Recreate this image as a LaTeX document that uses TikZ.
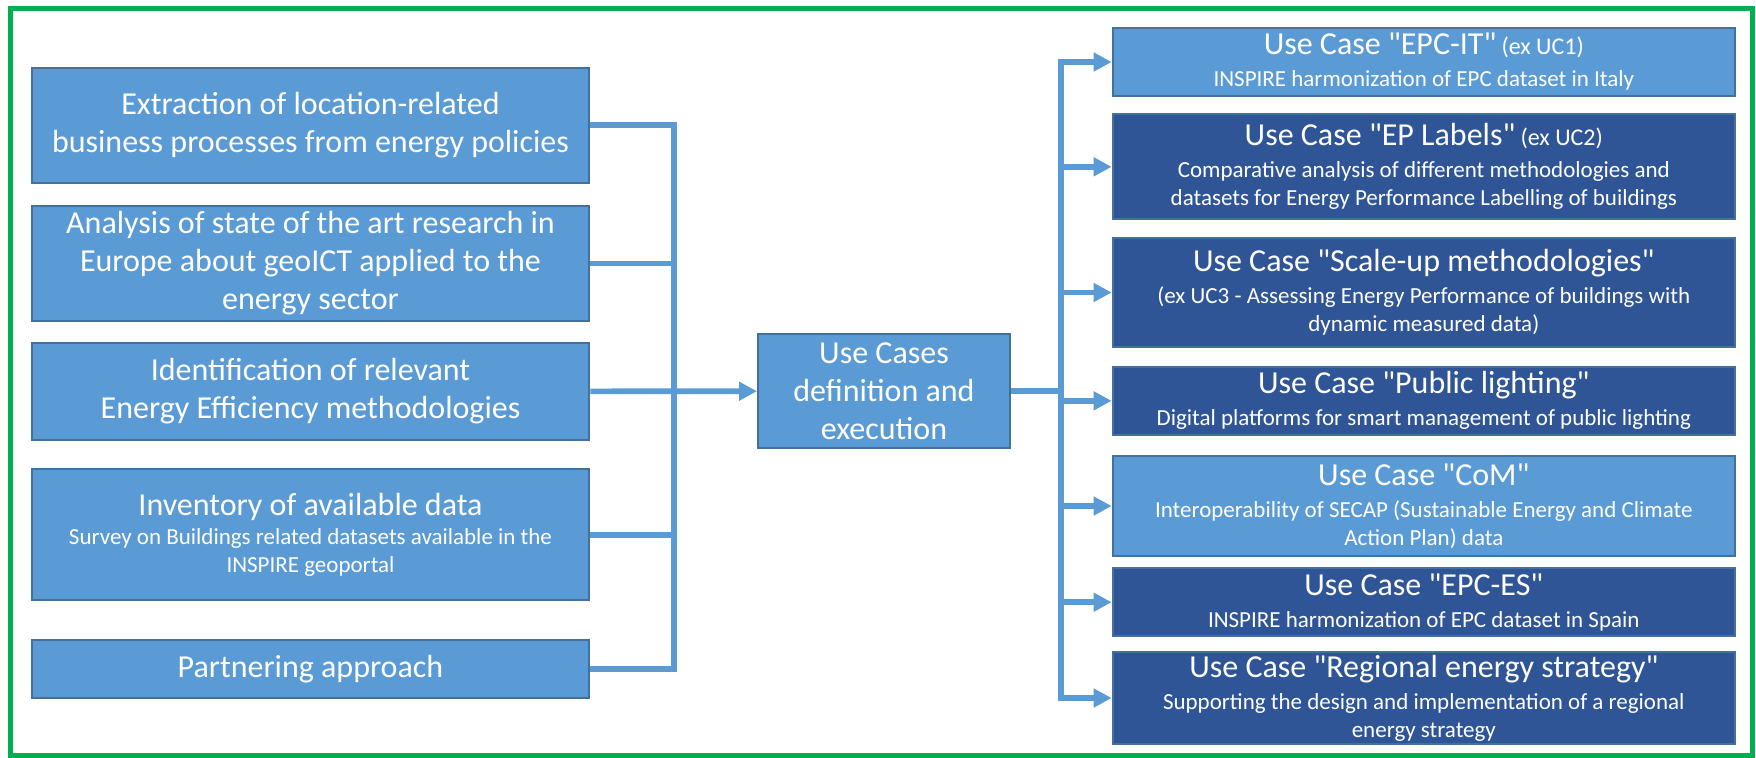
\documentclass[tikz,border=0pt]{standalone}
\usepackage{fontspec}
\setmainfont{Carlito}[Ligatures=TeXOff]
\usetikzlibrary{arrows.meta}
\definecolor{lblue}{HTML}{5B9BD5}
\definecolor{dblue}{HTML}{2F5597}
\definecolor{bordc}{HTML}{41719C}
\definecolor{framec}{HTML}{00B050}
\newcommand{\ucbig}{\fontsize{16}{19}\selectfont}
\newcommand{\ucsmall}{\fontsize{11.5}{14}\selectfont}
\newcommand{\ucex}{\fontsize{12}{14}\selectfont}
\begin{document}
\begin{tikzpicture}[x=0.5pt,y=-0.5pt,
  basebox/.style={draw=bordc, line width=1pt, text=white, align=center, inner sep=0pt},
  leftbox/.style={basebox, fill=lblue, font=\ucbig, minimum width=278.8pt},
  midbox/.style={basebox, fill=lblue, font=\ucbig},
  ucbox/.style={basebox, font=\ucsmall, minimum width=311.15pt},
  uclight/.style={ucbox, fill=lblue},
  ucdark/.style={ucbox, fill=dblue},
  conn/.style={draw=lblue, line width=2.8pt},
  arr/.style={conn, -{Triangle[length=9pt,width=9pt]}}]
\useasboundingbox (0,0) rectangle (1756,757);
\draw[framec, line width=2.5pt] (10,8) rectangle (1752,755);

% left column
\node[leftbox, minimum height=57.5pt] (L1) at (310.5,125.2)
  {Extraction of location-related\\business processes from energy policies};
\node[leftbox, minimum height=57.5pt] (L2) at (310.5,263.5)
  {Analysis of state of the art research in\\Europe about geoICT applied to the\\energy sector};
\node[leftbox, minimum height=48.65pt] (L3) at (310.5,391.3)
  {Identification of relevant\\Energy Efficiency methodologies};
\node[leftbox, font=\ucsmall, minimum height=65.35pt] (L4) at (310.5,534.7)
  {{\ucbig Inventory of available data}\\[0.5pt]Survey on Buildings related datasets available in the\\INSPIRE geoportal};
\node[leftbox, minimum height=28.85pt] (L5) at (310.5,668.8)
  {Partnering approach};

% middle
\node[midbox, minimum width=126pt, minimum height=57.15pt] (M) at (884,391.2)
  {Use Cases\\definition and\\execution};

% right column
\node[uclight, minimum height=33.7pt] (R1) at (1423.8,62)
  {{\ucbig Use Case "EPC-IT"} {\ucex (ex UC1)}\\[2pt]INSPIRE harmonization of EPC dataset in Italy};
\node[ucdark, minimum height=52.5pt] (R2) at (1423.8,166.8)
  {{\ucbig Use Case "EP Labels"} {\ucex (ex UC2)}\\[2pt]Comparative analysis of different methodologies and\\datasets for Energy Performance Labelling of buildings};
\node[ucdark, minimum height=54.2pt] (R3) at (1423.8,292.5)
  {{\ucbig Use Case "Scale-up methodologies"}\\[2pt](ex UC3 - Assessing Energy Performance of buildings with\\dynamic measured data)};
\node[ucdark, minimum height=34.15pt] (R4) at (1423.8,400.8)
  {{\ucbig Use Case "Public lighting"}\\[2pt]Digital platforms for smart management of public lighting};
\node[uclight, minimum height=50pt] (R5) at (1423.8,506)
  {{\ucbig Use Case "CoM"}\\[2pt]Interoperability of SECAP (Sustainable Energy and Climate\\Action Plan) data};
\node[ucdark, minimum height=33.85pt] (R6) at (1423.8,602.2)
  {{\ucbig Use Case "EPC-ES"}\\[2pt]INSPIRE harmonization of EPC dataset in Spain};
\node[ucdark, minimum height=46.3pt] (R7) at (1423.8,698)
  {{\ucbig Use Case "Regional energy strategy"}\\[2pt]Supporting the design and implementation of a regional\\energy strategy};

% junctions
\coordinate (jL) at (673.7,391.2);
\coordinate (jR) at (1061,391.2);

% left connectors
\draw[conn] (L1.east) -| (jL);
\draw[conn] (L5.east) -| (jL);
\draw[conn] (L2.east) -- (L2.east -| jL);
\draw[conn] (L4.east) -- (L4.east -| jL);
\draw[arr] (L3.east) -- (M.west);

% right connectors
\draw[conn] (M.east) -- (jR);
\draw[arr] (jR) |- (R1.west);
\draw[arr] (jR) |- (R7.west);
\draw[arr] (jR |- R2.west) -- (R2.west);
\draw[arr] (jR |- R3.west) -- (R3.west);
\draw[arr] (jR |- R4.west) -- (R4.west);
\draw[arr] (jR |- R5.west) -- (R5.west);
\draw[arr] (jR |- R6.west) -- (R6.west);
\end{tikzpicture}
\end{document}
